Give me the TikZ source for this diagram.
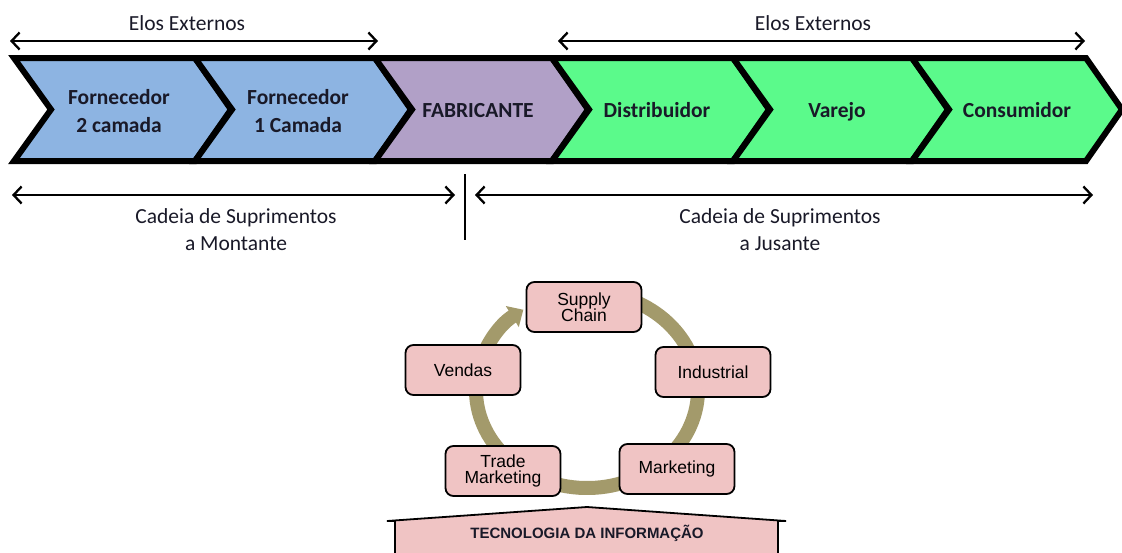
\documentclass[tikz,border=0pt]{standalone}
\usepackage{fontspec}
\setmainfont{Carlito}
\newfontfamily\arialf{Liberation Sans}
\usetikzlibrary{arrows.meta}
\definecolor{cblue}{RGB}{141,180,226}
\definecolor{cpurple}{RGB}{177,160,199}
\definecolor{cgreen}{RGB}{91,250,139}
\definecolor{cpink}{RGB}{240,196,196}
\definecolor{colive}{RGB}{163,154,107}
\definecolor{txt}{RGB}{25,25,40}
\tikzset{
  chevron/.style={draw=black, line width=6pt, line join=miter},
  chevtext/.style={align=center, text=txt, font=\bfseries\fontsize{21.5}{28}\selectfont},
  lbl/.style={align=center, text=txt, font=\fontsize{21.5}{27}\selectfont},
  dimarrow/.style={line width=2.3pt, {Straight Barb[length=8pt,width=17pt,line width=2.3pt]}-{Straight Barb[length=8pt,width=17pt,line width=2.3pt]}},
  pbox/.style={draw=black, line width=1.8pt, fill=cpink, rounded corners=8pt, minimum width=115pt, minimum height=50pt, align=center, inner sep=0pt, font=\arialf\fontsize{17.5}{16.5}\selectfont},
  ring/.style={draw=colive, line width=14pt, -{Triangle[length=13pt,width=24pt]}},
}
\newcommand\chevshape[3]{%
  \filldraw[chevron, fill=#3] (#1,58) -- (#2,58) -- (#2+36,109.5) -- (#2,161) -- (#1,161) -- (#1+37,109.5) -- cycle;}
\begin{document}
\begin{tikzpicture}[x=1pt,y=-1pt]
\useasboundingbox (0,0) rectangle (1122,552);

% chevron band
\chevshape{14}{195}{cblue}
\chevshape{195}{375}{cblue}
\chevshape{375}{552}{cpurple}
\chevshape{552}{733}{cgreen}
\chevshape{733}{912}{cgreen}
\chevshape{912}{1086}{cgreen}

\node[chevtext] (f2) at (119,111) {Fornecedor\\2 camada};
\node[chevtext] (f1) at (298,111) {Fornecedor\\1 Camada};
\node[chevtext, anchor=base] (fab) at (478,117) {FABRICANTE};
\node[chevtext, anchor=base] (dist) at (657,117) {Distribuidor};
\node[chevtext, anchor=base] (var) at (837,117) {Varejo};
\node[chevtext, anchor=base] (cons) at (1017,117) {Consumidor};

% top arrows
\coordinate (a1) at (10,41);
\coordinate (a2) at (378,41);
\coordinate (a3) at (558,41);
\coordinate (a4) at (1085,41);
\draw[dimarrow] (a1) -- (a2);
\draw[dimarrow] (a3) -- (a4);
\node[lbl] (e1) at (187,23) {Elos Externos};
\node[lbl] (e2) at (813,23) {Elos Externos};

% bottom arrows
\coordinate (b1) at (12,195);
\coordinate (b2) at (455,195);
\coordinate (b3) at (475,195);
\coordinate (b4) at (1093,195);
\draw[dimarrow] (b1) -- (b2);
\draw[dimarrow] (b3) -- (b4);
\coordinate (t1) at (465,174);
\coordinate (t2) at (465,240);
\draw[line width=2pt] (t1) -- (t2);
\node[lbl] (cm) at (236,230) {Cadeia de Suprimentos\\ a Montante};
\node[lbl] (cj) at (780,230) {Cadeia de Suprimentos\\ a Jusante};

% ring
\draw[ring] (587,390) ++(-80:111 and 98) arc[start angle=-80, end angle=235, x radius=111, y radius=98];

% boxes
\node[pbox] (sc) at (584,307) {Supply\\Chain};
\node[pbox] (ind) at (713,372) {Industrial};
\node[pbox] (mkt) at (677,469) {Marketing};
\node[pbox] (tm) at (503,471) {Trade\\Marketing};
\node[pbox] (ven) at (463,370) {Vendas};

% TI house
\filldraw[draw=black, line width=1.8pt, fill=cpink, line join=miter]
  (395,560) -- (395,521) -- (387,521) -- (587,507) -- (786,521) -- (778,521) -- (778,560) -- cycle;
\node[font=\arialf\bfseries\fontsize{15}{16}\selectfont, text=txt] (ti) at (587,533) {TECNOLOGIA DA INFORMAÇÃO};
\end{tikzpicture}
\end{document}
